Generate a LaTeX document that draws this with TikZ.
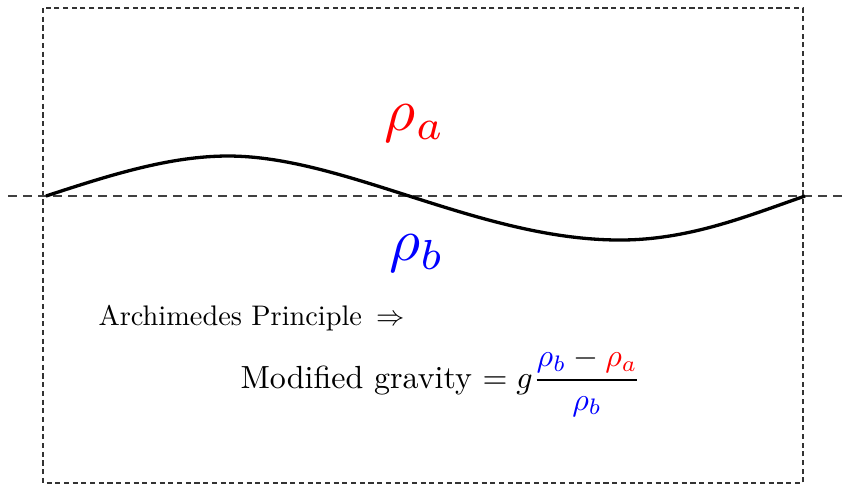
\documentclass[tikz,border=0pt]{standalone}
\usepackage{amsmath}
\begin{document}
\begin{tikzpicture}[x=0.3333pt,y=-0.3333pt,
  frame/.style={draw=black!80,line width=0.4pt,dash pattern=on 1.7pt off 1.2pt},
  level/.style={draw=black!75,line width=0.4pt,dash pattern=on 3pt off 2pt},
  wave/.style={draw=black,line width=1.1pt},
  lbl/.style={inner sep=0pt}]
\useasboundingbox (0,0) rectangle (848,485);
\draw[frame] (43,8) rectangle (803,483);
\coordinate (L) at (8,196);
\coordinate (R) at (848,196);
\draw[level] (L) -- (R);
\coordinate (w0) at (46,196);
\coordinate (w1) at (228,156);
\coordinate (w2) at (620,240);
\coordinate (w3) at (805,196);
\draw[wave] (w0) .. controls (110,175) and (170,156) .. (w1)
  .. controls (345,156) and (480,240) .. (w2)
  .. controls (690,240) and (750,215) .. (w3);
\node[lbl,text=red,scale=2.0] (ra) at (415,123) {$\rho_a$};
\node[lbl,text=blue,scale=2.0] (rb) at (417,253) {$\rho_b$};
\node[lbl,anchor=base west,scale=0.944] (arch) at (98,325) {Archimedes Principle $\,\Rightarrow$};
\node[lbl,anchor=west,scale=1.067] (mod) at (240,382) {Modified gravity $= g\dfrac{{\color{blue}\rho_b}-{\color{red}\rho_a}}{{\color{blue}\rho_b}}$};
\end{tikzpicture}
\end{document}
